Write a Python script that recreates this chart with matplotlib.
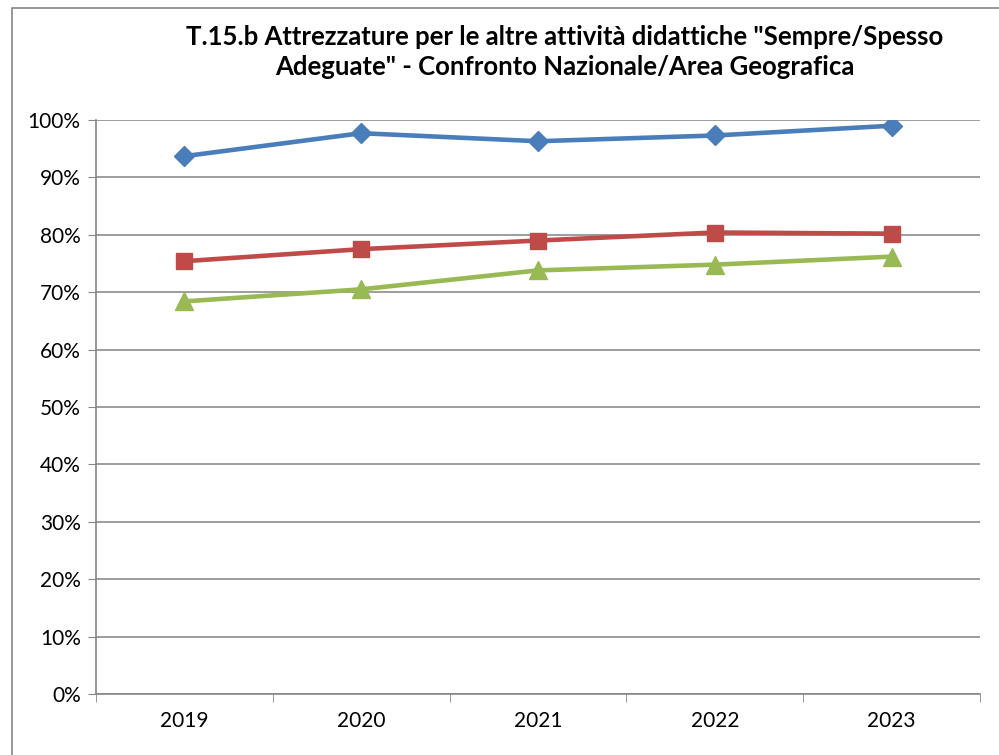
import matplotlib.pyplot as plt
from matplotlib.patches import Rectangle
from matplotlib.ticker import FixedLocator, NullFormatter

years = ['2019', '2020', '2021', '2022', '2023']
nazionale = [93.7, 97.7, 96.3, 97.3, 99.0]
area_rosso = [75.4, 77.5, 79.0, 80.4, 80.2]
area_verde = [68.4, 70.5, 73.8, 74.8, 76.2]
y_ticks = [0, 10, 20, 30, 40, 50, 60, 70, 80, 90, 100]

title = 'T.15.b Attrezzature per le altre attività didattiche "Sempre/Spesso\nAdeguate" - Confronto Nazionale/Area Geografica'

plt.rcParams['font.family'] = ['Lato', 'DejaVu Sans']

fig = plt.figure(figsize=(9.99, 7.55), dpi=100)
fig.patches.append(Rectangle((12 / 999, -0.1), 1.2, 1 - 8 / 755 + 0.1,
                             transform=fig.transFigure, fill=False,
                             edgecolor='#868686', linewidth=1.2))

ax = fig.add_axes([96 / 999, 1 - 694 / 755, 884 / 999, 574 / 755])
x = range(len(years))
ax.plot(x, nazionale, color='#4A7EBB', lw=3.3, marker='D', ms=10.5)
ax.plot(x, area_rosso, color='#BE4B48', lw=3.3, marker='s', ms=11.5)
ax.plot(x, area_verde, color='#98B954', lw=3.3, marker='^', ms=12.5)

ax.set_xlim(-0.5, len(years) - 0.5)
ax.set_ylim(0, 100)
ax.set_yticks(y_ticks)
ax.set_yticklabels([f'{v}%' for v in y_ticks], fontsize=15)
ax.set_xticks(list(x))
ax.set_xticklabels(years, fontsize=15)
ax.tick_params(axis='x', which='major', length=0, pad=12)
ax.xaxis.set_minor_locator(FixedLocator([i - 0.5 for i in range(len(years) + 1)]))
ax.xaxis.set_minor_formatter(NullFormatter())
ax.tick_params(axis='x', which='minor', length=6, color='#868686')
ax.tick_params(axis='y', length=6, color='#868686', pad=5)

ax.grid(axis='y', color='#8c8c8c', lw=1.2)
ax.set_axisbelow(True)
for side in ['top', 'right']:
    ax.spines[side].set_visible(False)
for side in ['left', 'bottom']:
    ax.spines[side].set_color('#868686')
    ax.spines[side].set_linewidth(1.2)

fig.text(565 / 999, 1 - 52 / 755, title, ha='center', va='center',
         fontsize=18.5, fontweight='bold', linespacing=1.3)

fig.savefig('out.png')
